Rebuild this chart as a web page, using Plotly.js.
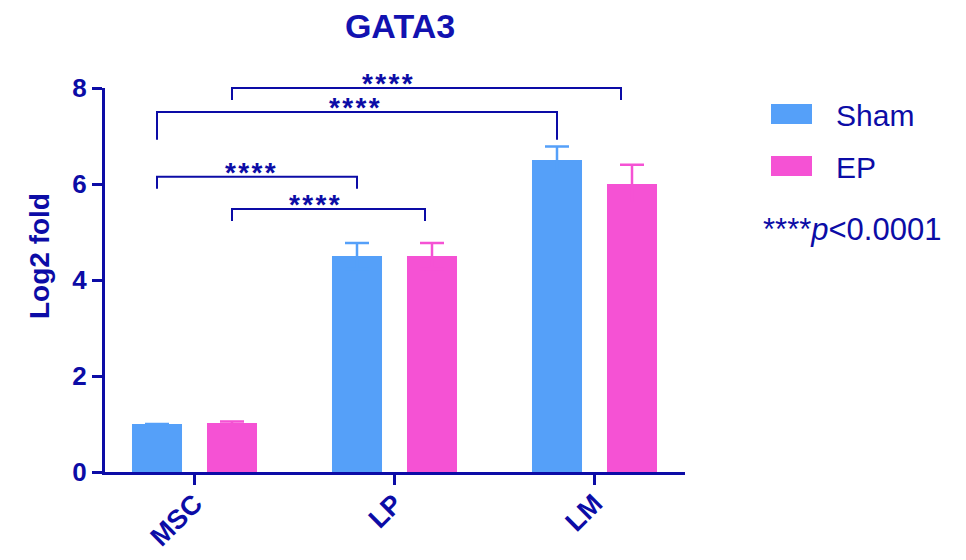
<!DOCTYPE html>
<html><head><meta charset="utf-8">
<script src="https://cdn.plot.ly/plotly-3.0.1.min.js"></script>
<style>html,body{margin:0;padding:0;background:#fff}</style>
</head><body><div id="chart" style="width:966px;height:560px"></div>
<script>
// ---- data ----
const categories = ['MSC', 'LP', 'LM'];
const seriesNames = ['Sham', 'EP'];
const shamValues = [1.0, 4.5, 6.5];
const shamErrors = [0.0, 0.27, 0.28];
const epValues = [1.02, 4.5, 6.0];
const epErrors = [0.03, 0.27, 0.40];
const yTicks = [0, 2, 4, 6, 8];
const chartTitle = 'GATA3';
const yTitle = 'Log2 fold';
// significance brackets
const bracketFromCat = ['MSC', 'MSC', 'MSC', 'MSC'];
const bracketFromSeries = ['Sham', 'EP', 'Sham', 'EP'];
const bracketToCat = ['LP', 'LP', 'LM', 'LM'];
const bracketToSeries = ['Sham', 'EP', 'Sham', 'EP'];
const bracketLevel = [6.15, 5.48, 7.5, 8.0];
const bracketDrop = [0.25, 0.25, 0.58, 0.25];
const bracketLabel = ['****', '****', '****', '****'];
const pValueNote = '****<i>p</i>&lt;0.0001';

// ---- style ----
const NAVY = '#0c0ca6';
const COLORS = {Sham: '#55a0f9', EP: '#f552d4'};
const FONT = 'Liberation Sans, Arial, Helvetica, sans-serif';
const W = 966, H = 560;
const M = {l: 105, r: 281, t: 88, b: 88};
const xRange = [-0.4475, 2.4525];
const yRange = [0, 8];
const bargap = 0.25;
const nSeries = seriesNames.length;
const slot = (1 - bargap) / nSeries;
// layout tweaks for bracket drawing (pixels / fractions)
const bracketEndInset = [0, 7, 0, 11];
const bracketLabelFrac = [0.47, 0.43, 0.495, 0.40];

function seriesOffset(name) {
  const i = seriesNames.indexOf(name);
  return -(1 - bargap) / 2 + slot * (i + 0.5);
}
function xPos(cat, ser) { return categories.indexOf(cat) + seriesOffset(ser); }
function xPaper(v) { return (v - xRange[0]) / (xRange[1] - xRange[0]); }
function yPaper(v) { return (v - yRange[0]) / (yRange[1] - yRange[0]); }
const plotW = W - M.l - M.r, plotH = H - M.t - M.b;
function pxX(px) { return (px - M.l) / plotW; }
function pxY(py) { return (H - M.b - py) / plotH; }

const traces = [
  {name: 'Sham', values: shamValues, errors: shamErrors},
  {name: 'EP', values: epValues, errors: epErrors}
].map(s => ({
  type: 'bar', name: s.name, x: categories, y: s.values,
  marker: {color: COLORS[s.name], line: {width: 0}},
  error_y: {type: 'data', symmetric: true, array: s.errors,
            color: COLORS[s.name], thickness: 2.5, width: 12},
  showlegend: false, hoverinfo: 'skip'
}));

const shapes = [];
const annotations = [];
for (let i = 0; i < bracketLevel.length; i++) {
  const x0 = xPaper(xPos(bracketFromCat[i], bracketFromSeries[i]));
  const x1 = xPaper(xPos(bracketToCat[i], bracketToSeries[i])) - bracketEndInset[i] / plotW;
  const yTop = yPaper(bracketLevel[i]);
  const yBot = yPaper(bracketLevel[i] - bracketDrop[i]);
  shapes.push({type: 'path', xref: 'paper', yref: 'paper',
    path: `M${x0},${yBot} L${x0},${yTop} L${x1},${yTop} L${x1},${yBot}`,
    line: {color: NAVY, width: 2}});
  annotations.push({xref: 'paper', yref: 'paper', x: x0 + (x1 - x0) * bracketLabelFrac[i], y: yTop,
    xanchor: 'center', yanchor: 'bottom', yshift: -13, showarrow: false,
    text: bracketLabel[i].split('').join('\u200A'),
    font: {family: FONT, size: 28, color: NAVY, weight: 'bold'}});
}

// legend (drawn manually)
const legendTop = [104, 156];
seriesNames.forEach((name, i) => {
  shapes.push({type: 'rect', xref: 'paper', yref: 'paper',
    x0: pxX(771), x1: pxX(812), y0: pxY(legendTop[i] + 20), y1: pxY(legendTop[i]),
    fillcolor: COLORS[name], line: {width: 0}});
  annotations.push({xref: 'paper', yref: 'paper', x: pxX(834), y: pxY(legendTop[i] + 11),
    xanchor: 'left', yanchor: 'middle', showarrow: false, text: name,
    font: {family: FONT, size: 30, color: NAVY}});
});
annotations.push({xref: 'paper', yref: 'paper', x: pxX(761), y: pxY(229),
  xanchor: 'left', yanchor: 'middle', showarrow: false, text: pValueNote,
  font: {family: FONT, size: 31, color: NAVY}});

// y axis title
annotations.push({xref: 'paper', yref: 'paper', x: pxX(39), y: pxY(256),
  xanchor: 'center', yanchor: 'middle', showarrow: false, textangle: -90,
  text: yTitle, font: {family: FONT, size: 28, color: NAVY, weight: 'bold'}});

const axisCommon = {
  showline: true, linecolor: NAVY, linewidth: 3,
  ticks: 'outside', ticklen: 10, tickwidth: 3, tickcolor: NAVY,
  showgrid: false, zeroline: false, fixedrange: true,
  tickfont: {family: FONT, size: 26, color: NAVY, weight: 'bold'}
};

const layout = {
  width: W, height: H, margin: {l: M.l, r: M.r, t: M.t, b: M.b, pad: 0},
  paper_bgcolor: '#fff', plot_bgcolor: '#fff',
  barmode: 'group', bargap: bargap, bargroupgap: 0.333,
  title: {text: chartTitle, x: 400 / W, xanchor: 'center', y: 1 - 26 / H, yanchor: 'middle',
          font: {family: FONT, size: 34, color: '#1212b0', weight: 'bold'}},
  xaxis: Object.assign({}, axisCommon, {type: 'category', range: xRange, tickangle: -45,
          ticklabelstandoff: -8,
          tickfont: {family: FONT, size: 27, color: NAVY, weight: 'bold'}}),
  yaxis: Object.assign({}, axisCommon, {range: yRange, tickvals: yTicks}),
  shapes: shapes, annotations: annotations, showlegend: false
};

Plotly.newPlot('chart', traces, layout, {displayModeBar: false, staticPlot: true});
</script></body></html>
